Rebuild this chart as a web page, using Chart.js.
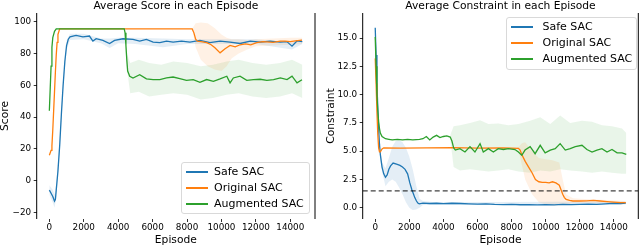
<!DOCTYPE html>
<html>
<head>
<meta charset="utf-8">
<script src="https://cdn.jsdelivr.net/npm/chart.js@4.4.0/dist/chart.umd.min.js"></script>
<style>
  html, body { margin: 0; padding: 0; background: #fff; }
  #wrap { position: relative; width: 640px; height: 248px; overflow: hidden; font-family: 'DejaVu Sans', sans-serif; }
  canvas { position: absolute; top: 0; }
  .legend { position: absolute; box-sizing: border-box; border: 1px solid #d9d9d9; border-radius: 3px; background: rgba(255,255,255,0.8); }
  .legend .row { position: absolute; left: 0; right: 0; height: 0; }
  .legend .swatch { position: absolute; }
  .legend .label { position: absolute; top: -7px; font-size: 11px; line-height: 14px; color: #000; white-space: nowrap; }
</style>
</head>
<body>
<div id="wrap">
  <canvas id="scoreChart" width="320" height="248" style="left:0"></canvas>
  <canvas id="constraintChart" width="320" height="248" style="left:320px"></canvas>
  <div class="legend" id="scoreLegend" style="left:181px;top:162px;width:129px;height:52px"></div>
  <div class="legend" id="constraintLegend" style="left:506px;top:17px;width:131px;height:53px"></div>
</div>
<script>
// Series names / colours
const seriesNames = ['Safe SAC', 'Original SAC', 'Augmented SAC'];
const seriesColors = ['#1f77b4', '#ff7f0e', '#2ca02c'];
const bandColors = ['rgba(31,119,180,0.12)', 'rgba(255,127,14,0.11)', 'rgba(44,160,44,0.1)'];

// Axes
const episodeRange = [-735, 15435];
const episodeTicks = [0, 2000, 4000, 6000, 8000, 10000, 12000, 14000];
const scoreRange = [-24.2, 105.5];
const scoreTicks = [-20, 0, 20, 40, 60, 80, 100];
const constraintRange = [-0.99, 17.21];
const constraintTicks = [0, 2.5, 5, 7.5, 10, 12.5, 15];
const constraintLimit = 1.5;

// ---- Average score ----
const scoreSafeEp = [0, 100, 200, 300, 350, 400, 500, 600, 700, 800, 900, 1000, 1100, 1200, 1550, 1950, 2330, 2530, 2720, 3110, 3500, 3790, 4280, 4860, 5250, 5640, 6030, 6420, 6810, 7190, 7680, 8170, 8750, 9330, 9920, 10500, 11080, 11670, 12250, 12830, 13420, 13800, 14100, 14400, 14700];
const scoreSafe = [-6, -8, -10, -13, -12, -6, 6, 22, 42, 60, 75, 85, 89, 90.5, 91.4, 90.5, 91, 87.8, 89.3, 88.3, 86.3, 88.3, 89.3, 88.9, 87.8, 88.9, 87.2, 86.8, 87.8, 87.2, 87.8, 87.2, 88.3, 86.8, 87.8, 87.2, 86.3, 87.8, 87.2, 87.8, 87.2, 87.5, 84.6, 88, 87.5];
const scoreSafeBandEp = [0, 200, 300, 400, 600, 800, 1000, 1200, 2000, 3000, 3500, 4000, 5000, 6600, 8000, 10000, 12000, 14100, 14700];
const scoreSafeHi = [-3, -6, -9, -2, 26, 63, 88, 92.5, 92.5, 89.5, 89.5, 90, 90, 89.5, 89, 89, 89, 87, 89];
const scoreSafeLo = [-9, -14, -17, -11, 18, 57, 82, 88.5, 89, 86.5, 83.5, 86.5, 86, 84, 86, 86, 86, 82.5, 86];

const scoreOrigEp = [0, 100, 150, 200, 250, 300, 350, 400, 450, 500, 600, 8300, 8400, 8500, 8600, 8800, 9140, 9400, 9620, 9920, 10210, 10500, 10800, 11080, 11400, 11700, 12050, 12400, 12830, 13000, 13420, 13700, 14000, 14300, 14680];
const scoreOrig = [16, 19, 22, 32, 44, 56, 68, 79, 87, 92, 95.5, 95.5, 93, 89, 87.8, 87.5, 86.8, 85.5, 83.6, 80.4, 83, 85.1, 84.2, 85.5, 86, 85.5, 86.8, 87.5, 87.2, 87, 87.8, 87.8, 87.5, 88, 88.4];
const scoreOrigBandEp = [8300, 8500, 8800, 9200, 9600, 10000, 10300, 10600, 11000, 11500, 12000, 13000, 14000, 14700];
const scoreOrigHi = [95.6, 99, 99.5, 99, 96, 92, 90, 89, 89, 88.5, 89, 89.5, 90, 90];
const scoreOrigLo = [95.4, 84, 76, 72, 70, 69, 72, 77, 80, 82.5, 84.5, 85, 85.5, 86];

const scoreAugEp = [0, 50, 100, 150, 200, 300, 400, 4350, 4400, 4450, 4500, 4550, 4670, 4860, 5250, 5640, 6030, 6420, 6810, 7190, 7580, 7970, 8360, 8750, 9140, 9530, 9920, 10310, 10500, 10690, 11080, 11470, 11860, 12250, 12640, 13030, 13420, 13810, 14100, 14390, 14680];
const scoreAug = [44, 58, 72, 84, 90, 94, 95.5, 95.5, 93, 85, 76, 69, 65.7, 64.6, 66.7, 64, 63.5, 63.6, 64.6, 65.2, 64.2, 63.1, 63.5, 61.9, 63.6, 62.5, 64, 65.7, 61.5, 64.6, 65.7, 63.1, 63.6, 63.8, 63.1, 63.6, 64.6, 63.6, 65.7, 61.5, 63.5];
const scoreAugBandEp = [0, 400, 4350, 4500, 4700, 5200, 5800, 6500, 7200, 8000, 8800, 9500, 10300, 11000, 11800, 12600, 13400, 14100, 14700];
const scoreAugHi = [44, 96, 96, 80, 74, 76, 74, 73, 75, 74, 72, 73, 75, 76, 74, 73, 74, 76, 73];
const scoreAugLo = [44, 95, 95, 71, 55, 56, 53, 54, 55, 54, 51, 52, 54, 55, 53, 52, 53, 55, 52];

// ---- Average constraint ----
const conSafeEp = [0, 50, 100, 150, 200, 250, 300, 400, 500, 600, 700, 800, 900, 1050, 1250, 1450, 1600, 1750, 1900, 2030, 2150, 2250, 2320, 2420, 2500, 2580, 2800, 3200, 3600, 4000, 4500, 5000, 5500, 6000, 6500, 7000, 7500, 8000, 8500, 9000, 9500, 10000, 10500, 11000, 11500, 12000, 12500, 13000, 13500, 14000, 14400, 14700];
const conSafe = [15.9, 13.5, 11, 8.8, 7, 5.6, 4.7, 3.6, 3.0, 2.7, 2.9, 3.4, 3.7, 3.95, 3.85, 3.75, 3.6, 3.4, 3.0, 2.2, 1.6, 1.2, 0.9, 0.6, 0.42, 0.35, 0.42, 0.38, 0.4, 0.36, 0.4, 0.38, 0.35, 0.33, 0.35, 0.3, 0.28, 0.3, 0.27, 0.28, 0.25, 0.28, 0.26, 0.3, 0.28, 0.3, 0.32, 0.3, 0.35, 0.4, 0.38, 0.42];
const conSafeBandEp = [0, 300, 400, 600, 800, 1000, 1200, 1400, 1600, 1800, 2000, 2200, 2400, 2600, 2800, 3500, 14700];
const conSafeHi = [15.9, 5.2, 4.0, 3.5, 4.4, 5.4, 5.9, 6.0, 5.8, 5.3, 4.5, 3.4, 2.0, 0.8, 0.6, 0.5, 0.55];
const conSafeLo = [15.9, 4.2, 3.2, 1.9, 2.3, 2.5, 2.3, 1.8, 1.2, 0.5, 0.0, -0.2, -0.15, 0.0, 0.25, 0.25, 0.3];

const conOrigEp = [0, 50, 100, 150, 200, 250, 300, 400, 500, 1500, 3000, 4500, 6000, 7500, 8400, 8500, 8600, 8800, 9000, 9200, 9400, 9600, 9800, 10000, 10200, 10400, 10600, 10800, 10900, 11000, 11100, 11200, 11400, 11600, 12000, 12400, 12800, 13200, 13600, 14000, 14400, 14700];
const conOrig = [13.2, 11, 8.5, 6.5, 5.3, 4.95, 4.95, 5.2, 5.3, 5.28, 5.3, 5.32, 5.28, 5.3, 5.25, 5.1, 4.7, 4.1, 3.6, 3.1, 2.5, 2.3, 2.25, 2.25, 2.2, 2.3, 2.2, 2.0, 1.6, 1.2, 0.9, 0.75, 0.65, 0.6, 0.6, 0.62, 0.65, 0.6, 0.55, 0.5, 0.45, 0.45];
const conOrigBandEp = [8300, 8400, 8600, 8800, 9200, 9600, 10000, 10400, 10800, 11000, 11200, 11600, 12000, 14700];
const conOrigHi = [5.3, 5.35, 5.7, 5.8, 5.0, 4.4, 4.3, 4.2, 4.0, 2.5, 1.2, 0.85, 0.8, 0.6];
const conOrigLo = [5.3, 5.15, 3.8, 2.5, 1.2, 0.5, 0.3, 0.2, 0.2, 0.25, 0.3, 0.4, 0.45, 0.35];

const conAugEp = [0, 50, 100, 150, 200, 250, 300, 400, 600, 800, 1000, 1300, 1600, 1900, 2200, 2600, 2800, 3000, 3200, 3400, 3600, 3800, 4000, 4200, 4400, 4500, 4600, 4700, 4970, 5265, 5560, 5850, 6150, 6340, 6640, 6930, 7220, 7520, 7810, 8200, 8400, 8600, 8790, 9090, 9380, 9680, 9970, 10270, 10560, 10850, 11150, 11440, 11740, 12130, 12420, 12720, 13010, 13300, 13600, 13890, 14190, 14480, 14730];
const conAug = [15.1, 12.5, 10, 8.6, 7.6, 7.0, 6.6, 6.3, 6.1, 6.05, 6.0, 6.05, 6.0, 6.05, 6.0, 6.05, 6.1, 6.3, 6.0, 6.25, 6.4, 6.2, 6.3, 6.35, 6.25, 5.9, 5.3, 5.1, 5.23, 4.93, 5.4, 4.93, 5.67, 4.93, 5.23, 4.93, 5.23, 5.15, 5.23, 5.15, 4.93, 4.64, 5.1, 5.4, 4.78, 5.52, 4.85, 5.1, 5.23, 5.67, 5.1, 5.23, 5.4, 5.52, 5.15, 4.93, 5.1, 5.23, 4.93, 5.15, 4.85, 4.85, 4.72];
const conAugBandEp = [4400, 4600, 4970, 5560, 6150, 6640, 7220, 7810, 8400, 9090, 9680, 10270, 10850, 11440, 12130, 12720, 13300, 13890, 14480, 14730];
const conAugHi = [6.4, 7.2, 7.3, 7.5, 7.74, 7.4, 7.45, 7.3, 7.4, 7.7, 8.0, 7.4, 8.15, 7.5, 7.7, 7.6, 7.3, 7.2, 7.0, 6.6];
const conAugLo = [6.1, 3.6, 3.3, 3.4, 3.3, 3.2, 3.3, 3.4, 3.2, 3.1, 3.3, 3.2, 3.4, 3.3, 3.2, 3.1, 3.2, 3.1, 3.0, 3.0];

const FONT = "'DejaVu Sans', sans-serif";

function pts(xs, ys) {
    if (xs.length !== ys.length) throw new Error('length mismatch ' + xs.length + ' vs ' + ys.length);
    return xs.map((x, i) => ({ x: x, y: ys[i] }));
}

function lineSet(i, xs, ys) {
    return {
        label: seriesNames[i], data: pts(xs, ys),
        borderColor: seriesColors[i], borderWidth: 1.3,
        pointRadius: 0, fill: false, order: 3 - i
    };
}

// upper edge + lower edge filled back to the upper one
function bandSets(i, xs, hi, lo) {
    return [
        { data: pts(xs, hi), borderWidth: 0, borderColor: 'rgba(0,0,0,0)', pointRadius: 0, fill: false, order: 10 },
        { data: pts(xs, lo), borderWidth: 0, borderColor: 'rgba(0,0,0,0)', pointRadius: 0, fill: '-1', backgroundColor: bandColors[i], order: 10 }
    ];
}

// left and right spines only
const spines = {
    id: 'spines',
    afterDatasetsDraw(chart) {
        const { ctx, chartArea: a } = chart;
        ctx.save();
        ctx.strokeStyle = '#000';
        ctx.lineWidth = 1;
        [a.left, a.right].forEach(x => {
            ctx.beginPath();
            ctx.moveTo(x, a.top);
            ctx.lineTo(x, a.bottom);
            ctx.stroke();
        });
        ctx.restore();
    }
};

function axisGrid() {
    return { display: true, drawOnChartArea: false, drawTicks: true, tickLength: 3, color: '#000', lineWidth: 0.8 };
}

function buildChart(id, cfg) {
    return new Chart(document.getElementById(id).getContext('2d'), {
        type: 'line',
        data: { datasets: cfg.datasets },
        options: {
            responsive: false,
            animation: false,
            layout: { padding: { left: 0, right: cfg.padRight, top: 0, bottom: 0 } },
            plugins: {
                legend: { display: false },
                tooltip: { enabled: false },
                title: {
                    display: true, text: cfg.title, fullSize: false, color: '#000',
                    font: { family: FONT, size: 10.7, weight: 'normal', lineHeight: 0.8 },
                    padding: { top: 1.6, bottom: 2.85 }
                }
            },
            scales: {
                x: {
                    type: 'linear', min: episodeRange[0], max: episodeRange[1],
                    afterBuildTicks: s => { s.ticks = episodeTicks.map(v => ({ value: v })); },
                    afterFit: s => { s.height = 29; },
                    ticks: { autoSkip: false, maxRotation: 0, padding: 0.6, color: '#000', font: { family: FONT, size: 8.8 }, callback: v => String(v) },
                    grid: axisGrid(),
                    border: { display: false },
                    title: { display: true, text: 'Episode', color: '#000', font: { family: FONT, size: 10.7 }, padding: { top: 0, bottom: 1.6 } }
                },
                y: {
                    type: 'linear', min: cfg.yRange[0], max: cfg.yRange[1],
                    afterBuildTicks: s => { s.ticks = cfg.yTicks.map(v => ({ value: v })); },
                    afterFit: s => { s.width = cfg.yWidth; },
                    ticks: { autoSkip: false, padding: 2.6, color: '#000', font: { family: FONT, size: 8.8 }, callback: cfg.yFormat },
                    grid: axisGrid(),
                    border: { display: false },
                    title: { display: true, text: cfg.yTitle, color: '#000', font: { family: FONT, size: 10.7 }, padding: { top: cfg.yTitlePad, bottom: 0 } }
                }
            }
        },
        plugins: [spines]
    });
}

function buildLegend(id, lineLeft, textLeft, widths) {
    const box = document.getElementById(id);
    const rowsY = [9, 25, 41];
    seriesNames.forEach((name, i) => {
        const row = document.createElement('div');
        row.className = 'row';
        row.style.top = rowsY[i] + 'px';
        const sw = document.createElement('span');
        sw.className = 'swatch';
        sw.style.left = lineLeft + 'px';
        sw.style.width = '22px';
        sw.style.background = seriesColors[i];
        sw.style.height = widths[i] + 'px';
        sw.style.top = (-widths[i] / 2) + 'px';
        const tx = document.createElement('span');
        tx.className = 'label';
        tx.style.left = textLeft + 'px';
        tx.textContent = name;
        row.appendChild(sw);
        row.appendChild(tx);
        box.appendChild(row);
    });
}

document.addEventListener('DOMContentLoaded', function() {
    // Score chart
    buildChart('scoreChart', {
        title: 'Average Score in each Episode',
        yTitle: 'Score', yTitlePad: -1.1, yWidth: 36.7, padRight: 5,
        yRange: scoreRange, yTicks: scoreTicks,
        yFormat: v => String(v).replace('-', '\u2212'),
        datasets: [].concat(
            bandSets(0, scoreSafeBandEp, scoreSafeHi, scoreSafeLo),
            bandSets(1, scoreOrigBandEp, scoreOrigHi, scoreOrigLo),
            bandSets(2, scoreAugBandEp, scoreAugHi, scoreAugLo),
            [lineSet(0, scoreSafeEp, scoreSafe), lineSet(1, scoreOrigEp, scoreOrig), lineSet(2, scoreAugEp, scoreAug)]
        )
    });

    // Constraint chart
    buildChart('constraintChart', {
        title: 'Average Constraint in each Episode',
        yTitle: 'Constraint', yTitlePad: 4.8, yWidth: 42.7, padRight: 1.7,
        yRange: constraintRange, yTicks: constraintTicks,
        yFormat: v => v.toFixed(1),
        datasets: [].concat(
            bandSets(0, conSafeBandEp, conSafeHi, conSafeLo),
            bandSets(1, conOrigBandEp, conOrigHi, conOrigLo),
            bandSets(2, conAugBandEp, conAugHi, conAugLo),
            [lineSet(0, conSafeEp, conSafe), lineSet(1, conOrigEp, conOrig), lineSet(2, conAugEp, conAug)],
            [{
                data: pts(episodeRange, [constraintLimit, constraintLimit]),
                borderColor: 'rgba(0,0,0,0.75)', borderWidth: 1.2, borderDash: [5, 3],
                pointRadius: 0, fill: false, order: 0
            }]
        )
    });

    buildLegend('scoreLegend', 4, 32, [1.5, 1.5, 1.5]);
    buildLegend('constraintLegend', 4, 35.5, [2, 1.5, 1.5]);
});
</script>
</body>
</html>
